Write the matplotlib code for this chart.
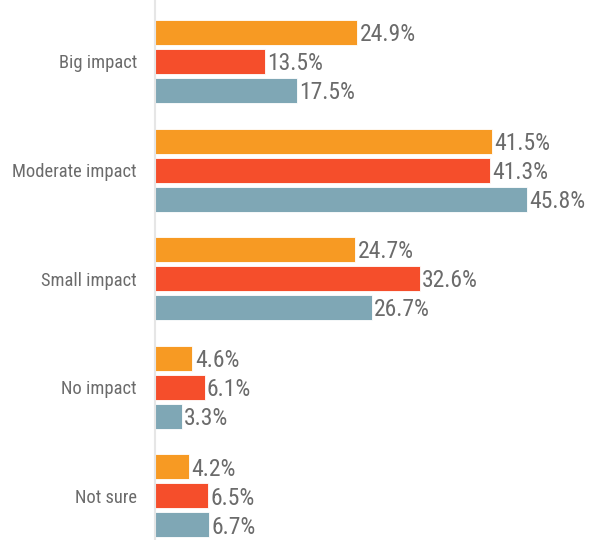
import matplotlib.pyplot as plt
from matplotlib import font_manager
import numpy as np

categories = ["Big impact", "Moderate impact", "Small impact", "No impact", "Not sure"]
series_a = [24.9, 41.5, 24.7, 4.6, 4.2]
series_b = [13.5, 41.3, 32.6, 6.1, 6.5]
series_c = [17.5, 45.8, 26.7, 3.3, 6.7]
colors = ["#F79A23", "#F54E2B", "#7FA7B5"]

installed = {f.name for f in font_manager.fontManager.ttflist}
families = [f for f in ["Roboto Condensed", "Liberation Sans Narrow", "Roboto", "DejaVu Sans"] if f in installed]
plt.rcParams["font.family"] = families

fig = plt.figure(figsize=(5.9, 5.4), dpi=100)
ax = fig.add_axes([155 / 590, 0, 435 / 590, 1])

y = np.arange(len(categories))
offset = 0.267
height = 0.23
for k, vals in enumerate([series_a, series_b, series_c]):
    pos = y + (k - 1) * offset
    ax.barh(pos, vals, height=height, color=colors[k], edgecolor="white", linewidth=0.6)
    for p, v in zip(pos, vals):
        ax.text(v + 0.3, p + 0.02, f"{v}%", va="center", ha="left", fontsize=17, color="#6b6b6b")

ax.set_xlim(0, 53.6)
ax.set_ylim(4.406, -0.566)
ax.set_yticks(y)
ax.set_yticklabels(categories, fontsize=13.3, color="#6b6b6b")
ax.tick_params(axis="y", length=0, pad=13)
ax.set_xticks([])
for s in ["top", "right", "bottom"]:
    ax.spines[s].set_visible(False)
ax.spines["left"].set_color("#e6e6e6")
ax.spines["left"].set_linewidth(1.5)

fig.savefig("out.png", dpi=100)
